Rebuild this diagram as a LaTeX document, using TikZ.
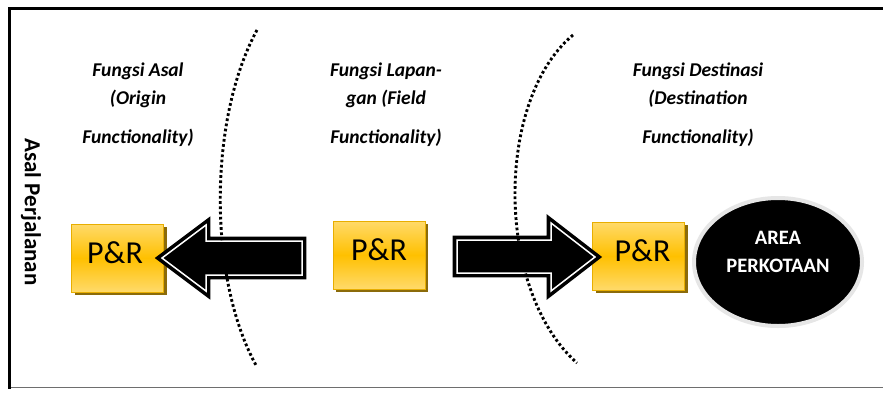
\documentclass[tikz,border=0pt]{standalone}
\usepackage{fontspec}
\setmainfont{Carlito}
\usetikzlibrary{shapes.geometric,shadows}
\definecolor{prgold}{HTML}{FFC000}
\definecolor{prlight}{HTML}{FFDA6A}
\definecolor{prborder}{HTML}{E8AE00}
\definecolor{prshadow}{HTML}{8B6B0A}
\definecolor{ringgray}{HTML}{E6E6E6}
\definecolor{framegray}{HTML}{6E6E6E}
\tikzset{
  prbox/.style={rectangle, draw=prborder, line width=0.8pt,
    top color=prlight, bottom color=prlight, middle color=prgold,
    minimum width=92pt, minimum height=68pt, inner sep=0pt,
    text height=20pt, text depth=10pt,
    font=\fontsize{32}{36}\selectfont,
    drop shadow={shadow xshift=3pt, shadow yshift=-3pt, fill=prshadow, opacity=1}},
  blockarrow/.style={fill=black, draw=black, line width=3.6pt,
    double=white, double distance=1.5pt, line join=miter, miter limit=10},
  borderarc/.style={draw=black, line width=2.9pt, dash pattern=on 2.7pt off 2.5pt},
  functext/.style={anchor=base, inner sep=0pt,
    font=\fontsize{19.5}{22}\selectfont\bfseries\itshape, text=black},
  citytext/.style={text=white, align=center,
    font=\fontsize{20.5}{28}\selectfont\bfseries},
}
\begin{document}
\begin{tikzpicture}[x=1pt, y=-1pt]
\useasboundingbox (0,0) rectangle (883,394);
\fill[white] (0,0) rectangle (883,394);

% frame
\draw[framegray, line width=1.8pt] (9,387.5) -- (883,387.5);
\draw[black, line width=3pt] (9,388.5) -- (9,8.5) -- (883,8.5);

% side caption
\node[rotate=-90, font=\fontsize{23}{26}\selectfont\bfseries] (trip) at (31,212) {Asal Perjalanan};

% column headings
\node[functext] (oa) at (138,76) {Fungsi Asal};
\node[functext] (ob) at (138,104.5) {(Origin};
\node[functext] (oc) at (138,143.5) {Functionality)};

\node[functext] (fa) at (386,76) {Fungsi Lapan-};
\node[functext] (fb) at (386,104.5) {gan (Field};
\node[functext] (fc) at (386,143.5) {Functionality)};

\node[functext] (da) at (698,76) {Fungsi Destinasi};
\node[functext] (db) at (698,104.5) {(Destination};
\node[functext] (dc) at (698,143.5) {Functionality)};

% park and ride stations
\node[prbox] (prl) at (117.5,258) {\hspace{-5pt}P\&R};
\node[prbox] (prm) at (379,255) {P\&R};
\node[prbox] (prr) at (638.5,256) {\hspace{8pt}P\&R};

% urban area
\node[ellipse, fill=black, draw=ringgray, line width=4pt,
  minimum width=168pt, minimum height=128pt,
  drop shadow={shadow xshift=1pt, shadow yshift=-1.5pt, fill=black!30, opacity=.4}]
  (city) at (778,262) {};
\node[citytext] (citylbl) at (778,252) {AREA\\PERKOTAAN};

% block arrows
\draw[blockarrow] (162,258) -- (206,225) -- (206,241) -- (302,241)
  -- (302,275) -- (206,275) -- (206,291) -- cycle;
\draw[blockarrow] (595,257) -- (551,223) -- (551,240) -- (457,240)
  -- (457,273) -- (551,273) -- (551,291) -- cycle;

% zone boundaries
\draw[borderarc] (257,30) .. controls (208,120) and (208,280) .. (257,367);
\draw[borderarc] (573,35) .. controls (495,100) and (495,290) .. (577,363);
\end{tikzpicture}
\end{document}
